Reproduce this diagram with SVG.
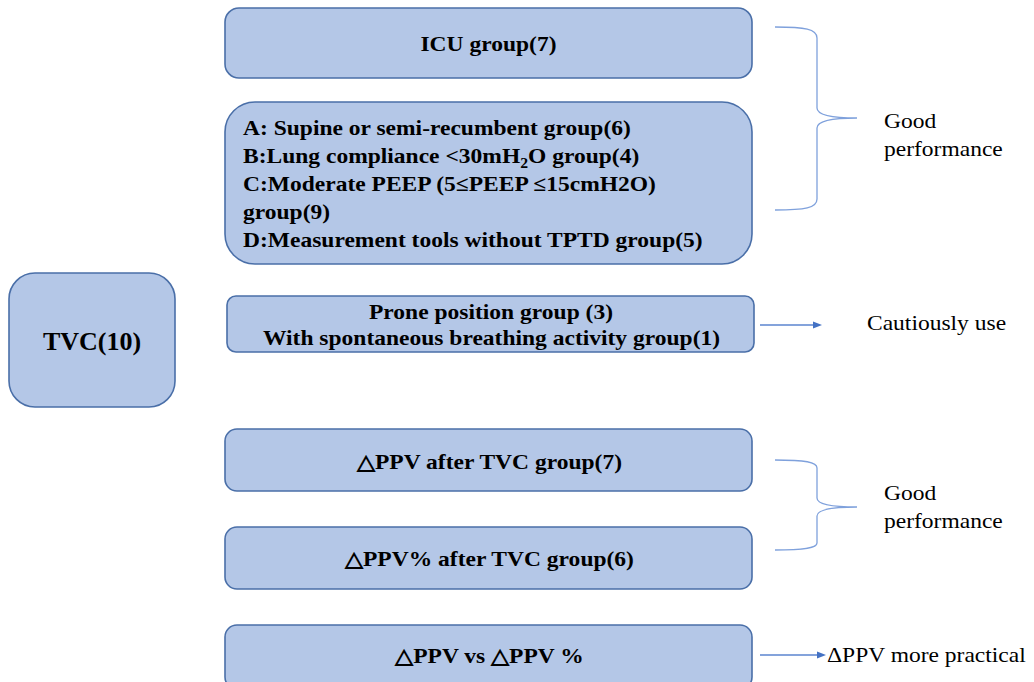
<svg xmlns="http://www.w3.org/2000/svg" width="1034" height="682" viewBox="0 0 1034 682">
<rect width="1034" height="682" fill="#fff"/>
<g id="tvc">
<rect fill="#B4C7E7" stroke="#4A6FA8" stroke-width="1.6" x="9" y="273" width="166" height="134" rx="26"/>
<text font-family="Liberation Serif" font-weight="bold" font-size="26" x="92" y="350" text-anchor="middle">TVC(10)</text>
</g>
<g id="icu">
<rect fill="#B4C7E7" stroke="#4A6FA8" stroke-width="1.6" x="225" y="8" width="527" height="70" rx="14"/>
<text font-family="Liberation Serif" font-weight="bold" font-size="21" text-anchor="middle" transform="translate(488.5,51) scale(1.12,1)">ICU group(7)</text>
</g>
<g id="abcd">
<rect fill="#B4C7E7" stroke="#4A6FA8" stroke-width="1.6" x="225" y="102" width="527" height="162" rx="30"/>
<text font-family="Liberation Serif" font-weight="bold" font-size="21" transform="translate(243,135) scale(1.12,1)">A: Supine or semi-recumbent group(6)</text>
<text font-family="Liberation Serif" font-weight="bold" font-size="21" transform="translate(243,163) scale(1.12,1)">B:Lung compliance &lt;30mH<tspan font-size="14" dy="5">2</tspan><tspan dy="-5">O group(4)</tspan></text>
<text font-family="Liberation Serif" font-weight="bold" font-size="21" transform="translate(243,191) scale(1.12,1)">C:Moderate PEEP (5≤PEEP ≤15cmH2O)</text>
<text font-family="Liberation Serif" font-weight="bold" font-size="21" transform="translate(243,219) scale(1.12,1)">group(9)</text>
<text font-family="Liberation Serif" font-weight="bold" font-size="21" transform="translate(243,247) scale(1.12,1)">D:Measurement tools without TPTD group(5)</text>
</g>
<g id="prone">
<rect fill="#B4C7E7" stroke="#4A6FA8" stroke-width="1.6" x="227" y="296" width="527" height="56" rx="9"/>
<text font-family="Liberation Serif" font-weight="bold" font-size="21" text-anchor="middle" transform="translate(491,319) scale(1.12,1)">Prone position group (3)</text>
<text font-family="Liberation Serif" font-weight="bold" font-size="21" text-anchor="middle" transform="translate(491.5,345) scale(1.12,1)">With spontaneous breathing activity group(1)</text>
</g>
<g id="dppv">
<rect fill="#B4C7E7" stroke="#4A6FA8" stroke-width="1.6" x="225" y="429" width="527" height="62" rx="12"/>
<text font-family="Liberation Serif" font-weight="bold" font-size="21" text-anchor="middle" transform="translate(489.5,469) scale(1.12,1)">△PPV after TVC group(7)</text>
</g>
<g id="dppvpct">
<rect fill="#B4C7E7" stroke="#4A6FA8" stroke-width="1.6" x="225" y="527" width="527" height="62" rx="12"/>
<text font-family="Liberation Serif" font-weight="bold" font-size="21" text-anchor="middle" transform="translate(489.5,566) scale(1.12,1)">△PPV% after TVC group(6)</text>
</g>
<g id="vs">
<rect fill="#B4C7E7" stroke="#4A6FA8" stroke-width="1.6" x="225" y="625" width="527" height="64" rx="12"/>
<text font-family="Liberation Serif" font-weight="bold" font-size="21" text-anchor="middle" transform="translate(489.5,663) scale(1.12,1)">△PPV vs △PPV %</text>
</g>
<g id="connectors" fill="none" stroke-width="1.3">
<path stroke="#7FA1DC" d="M775,27 C805,27 817,29 817,38 L817,108 C817,116 835,118 857,118 C835,118 817,120 817,128 L817,199 C817,208 805,210 775,210"/>
<path stroke="#7FA1DC" d="M775,460 C805,460 817,462 817,468 L817,498 C817,505 835,507 857,507 C835,507 817,509 817,516 L817,543 C817,548 805,550 775,550"/>
<line stroke="#5B85CF" x1="760" y1="325" x2="815" y2="325"/>
<polygon fill="#4472C4" stroke="none" points="813,321.5 822,325 813,328.5"/>
<line stroke="#5B85CF" x1="760" y1="655" x2="819" y2="655"/>
<polygon fill="#4472C4" stroke="none" points="817,651.5 826,655 817,658.5"/>
</g>
<g id="labels">
<text font-family="Liberation Serif" font-size="21" transform="translate(884,128) scale(1.12,1)">Good</text>
<text font-family="Liberation Serif" font-size="21" transform="translate(884,156) scale(1.12,1)">performance</text>
<text font-family="Liberation Serif" font-size="21" transform="translate(884,500) scale(1.12,1)">Good</text>
<text font-family="Liberation Serif" font-size="21" transform="translate(884,528) scale(1.12,1)">performance</text>
<text font-family="Liberation Serif" font-size="21" transform="translate(867,330) scale(1.12,1)">Cautiously use</text>
<text font-family="Liberation Serif" font-size="21" transform="translate(827,662) scale(1.12,1)">ΔPPV more practical</text>
</g>
</svg>
